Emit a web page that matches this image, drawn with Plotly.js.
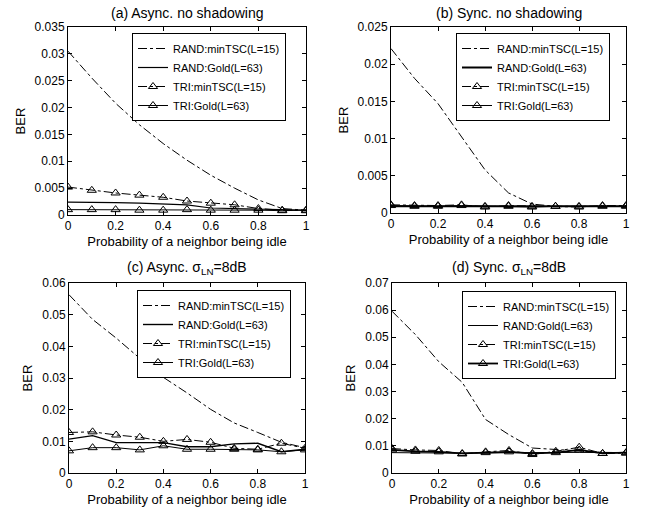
<!DOCTYPE html>
<html>
<head>
<meta charset="utf-8">
<script src="https://cdn.plot.ly/plotly-3.0.1.min.js"></script>
<style>html,body{margin:0;padding:0;background:#fff;}#chart{width:646px;height:512px;}</style>
</head>
<body>
<div id="chart"></div>
<script>
// ---- data ----
const xVals = [0, 0.1, 0.2, 0.3, 0.4, 0.5, 0.6, 0.7, 0.8, 0.9, 1.0];
const seriesNames = ["RAND:minTSC(L=15)", "RAND:Gold(L=63)", "TRI:minTSC(L=15)", "TRI:Gold(L=63)"];
const panelTitles = ["(a) Async. no shadowing", "(b) Sync. no shadowing",
                     "(c) Async. σ<sub>LN</sub>=8dB", "(d) Sync. σ<sub>LN</sub>=8dB"];
const xTitle = "Probability of a neighbor being idle";
const yTitle = "BER";

// (a) Async, no shadowing
const aRandMin  = [0.0305, 0.0255, 0.0208, 0.0168, 0.0133, 0.0102, 0.0074, 0.0050, 0.0028, 0.0012, 0.0009];
const aRandGold = [0.0024, 0.0024, 0.0023, 0.0022, 0.0021, 0.0019, 0.0013, 0.0012, 0.0010, 0.0009, 0.0009];
const aTriMin   = [0.0052, 0.0046, 0.0041, 0.0037, 0.0033, 0.0026, 0.0022, 0.0019, 0.0012, 0.0009, 0.0008];
const aTriGold  = [0.0010, 0.0010, 0.0010, 0.0009, 0.0009, 0.0010, 0.0009, 0.0009, 0.0009, 0.0008, 0.0009];
// (b) Sync, no shadowing
const bRandMin  = [0.0221, 0.0181, 0.0147, 0.0103, 0.0058, 0.0027, 0.0012, 0.0009, 0.0009, 0.0009, 0.0009];
const bRandGold = [0.0009, 0.0009, 0.0009, 0.0009, 0.0009, 0.0009, 0.0009, 0.0009, 0.0009, 0.0009, 0.0009];
const bTriMin   = [0.0011, 0.0010, 0.0010, 0.0011, 0.0008, 0.0010, 0.0009, 0.0009, 0.0008, 0.0010, 0.0010];
const bTriGold  = [0.0010, 0.0009, 0.0009, 0.0010, 0.0009, 0.0009, 0.0008, 0.0009, 0.0009, 0.0009, 0.0009];
// (c) Async, sigma_LN = 8dB
const cRandMin  = [0.0563, 0.0485, 0.0426, 0.0362, 0.0302, 0.0253, 0.0201, 0.0158, 0.0128, 0.0097, 0.0080];
const cRandGold = [0.0107, 0.0118, 0.0096, 0.0096, 0.0096, 0.0083, 0.0083, 0.0092, 0.0094, 0.0067, 0.0075];
const cTriMin   = [0.0128, 0.0130, 0.0120, 0.0113, 0.0100, 0.0106, 0.0097, 0.0078, 0.0075, 0.0094, 0.0078];
const cTriGold  = [0.0070, 0.0080, 0.0080, 0.0073, 0.0086, 0.0075, 0.0075, 0.0075, 0.0073, 0.0067, 0.0073];
// (d) Sync, sigma_LN = 8dB
const dRandMin  = [0.0596, 0.0510, 0.0410, 0.0334, 0.0197, 0.0141, 0.0092, 0.0086, 0.0080, 0.0076, 0.0075];
const dRandGold = [0.0075, 0.0074, 0.0075, 0.0073, 0.0074, 0.0075, 0.0074, 0.0075, 0.0076, 0.0075, 0.0076];
const dTriMin   = [0.0090, 0.0085, 0.0083, 0.0070, 0.0078, 0.0083, 0.0068, 0.0080, 0.0095, 0.0072, 0.0073];
const dTriGold  = [0.0085, 0.0080, 0.0078, 0.0072, 0.0075, 0.0078, 0.0072, 0.0075, 0.0085, 0.0072, 0.0075];

const yMax  = [0.035, 0.025, 0.06, 0.07];
const yStep = [0.005, 0.005, 0.01, 0.01];

// ---- build ----
const panels = [
  [aRandMin, aRandGold, aTriMin, aTriGold],
  [bRandMin, bRandGold, bTriMin, bTriGold],
  [cRandMin, cRandGold, cTriMin, cTriGold],
  [dRandMin, dRandGold, dTriMin, dTriGold]
];
// line widths per panel per series
const widths = [[1, 1.2, 1, 1], [1, 2, 1, 1], [1, 1.4, 1, 1], [1, 1, 1, 1.8]];
const dashes = ['dashdot', 'solid', 'dashdot', 'solid'];
const hasMarker = [false, false, true, true];

const W = 646, H = 512;
// plot boxes in pixels [left, right, top, bottom]
const boxes = [[68, 306, 27, 215], [391, 626, 27, 213], [69, 305, 283, 473], [392, 626, 283, 473]];
const legendPos = [[132, 33], [456, 33], [137, 290], [462, 291]];

const font = {family: 'Liberation Sans, Arial, sans-serif', color: '#000'};
const traces = [];
const layout = {
  width: W, height: H,
  margin: {l: 0, r: 0, t: 0, b: 0},
  paper_bgcolor: '#fff', plot_bgcolor: '#fff',
  font: Object.assign({size: 12}, font),
  annotations: []
};

panels.forEach((p, i) => {
  const n = i + 1;
  const sfx = n === 1 ? '' : String(n);
  const xa = 'x' + sfx, ya = 'y' + sfx;
  const lg = 'legend' + sfx;
  p.forEach((ys, k) => {
    const t = {
      type: 'scatter', x: xVals, y: ys, name: seriesNames[k],
      xaxis: xa, yaxis: ya, legend: lg, showlegend: true,
      mode: hasMarker[k] ? 'lines+markers' : 'lines',
      line: {color: '#000', width: widths[i][k], dash: dashes[k]}
    };
    if (hasMarker[k]) {
      t.marker = {symbol: 'triangle-up-open', size: 8, color: '#000', line: {width: 1}};
    }
    traces.push(t);
  });
  const b = boxes[i];
  const axCommon = {
    showline: true, linecolor: '#000', linewidth: 1, mirror: 'ticks',
    ticks: 'inside', ticklen: 4, tickcolor: '#000', showgrid: false, zeroline: false,
    tickfont: Object.assign({size: 12}, font)
  };
  layout['xaxis' + sfx] = Object.assign({}, axCommon, {
    domain: [b[0] / W, b[1] / W], anchor: ya, range: [0, 1], tickvals: [0, 0.2, 0.4, 0.6, 0.8, 1],
    ticktext: ['0', '0.2', '0.4', '0.6', '0.8', '1'],
    title: {text: xTitle, font: Object.assign({size: 13}, font), standoff: 4}
  });
  layout['yaxis' + sfx] = Object.assign({}, axCommon, {
    domain: [1 - b[3] / H, 1 - b[2] / H], anchor: xa, range: [0, yMax[i]], dtick: yStep[i], tick0: 0,
    title: {text: yTitle, font: Object.assign({size: 13}, font), standoff: 6}
  });
  const lp = legendPos[i];
  layout['legend' + sfx] = {
    x: lp[0] / W, y: 1 - lp[1] / H, xanchor: 'left', yanchor: 'top',
    bgcolor: '#fff', bordercolor: '#000', borderwidth: 1,
    font: Object.assign({size: 11}, font), tracegroupgap: 0, itemwidth: 30,
    traceorder: 'normal'
  };
  layout.annotations.push({
    text: panelTitles[i], xref: 'paper', yref: 'paper',
    x: ((b[0] + b[1]) / 2) / W, y: 1 - (b[2] - 4) / H, xanchor: 'center', yanchor: 'bottom',
    showarrow: false, font: Object.assign({size: 14}, font)
  });
});

Plotly.newPlot('chart', traces, layout, {displayModeBar: false, staticPlot: true});
</script>
</body>
</html>
